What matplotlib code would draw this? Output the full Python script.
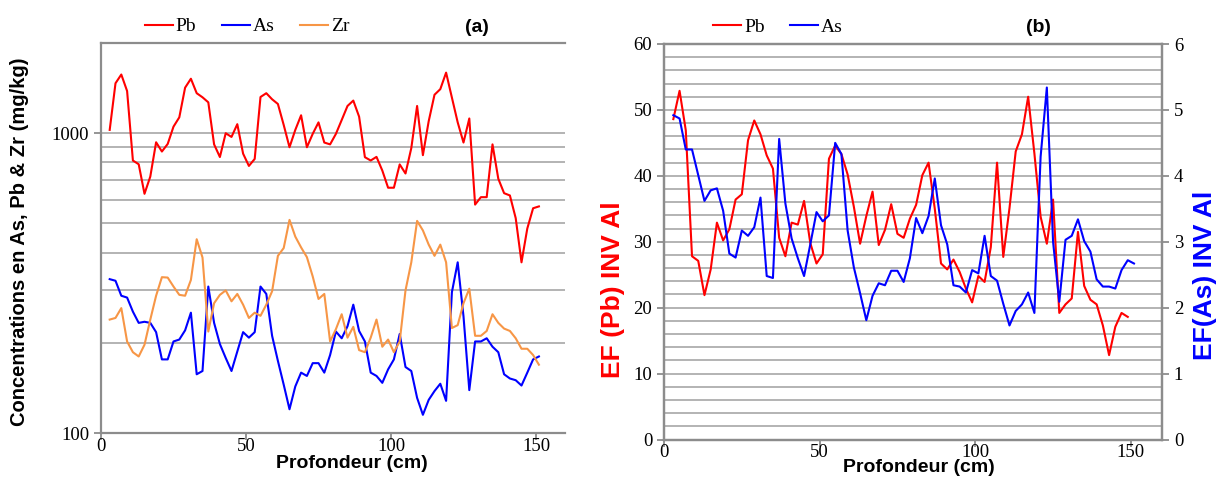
import matplotlib
matplotlib.use("Agg")
import matplotlib.pyplot as plt
from matplotlib.ticker import FixedLocator, NullFormatter
from matplotlib.lines import Line2D

# Depth of each sample (cm)
depth = list(range(3, 152, 2))

# Concentrations (mg/kg)
pb = [1026, 1468, 1570, 1383, 811, 788, 628, 717, 933, 869,
      921, 1052, 1130, 1419, 1520, 1360, 1318, 1268, 918, 833,
      1000, 972, 1072, 855, 778, 821, 1321, 1360, 1298, 1252,
      1066, 898, 1026, 1148, 898, 995, 1087, 931, 918, 995,
      1107, 1233, 1285, 1136, 832, 811, 834, 751, 658, 658,
      787, 734, 892, 1233, 845, 1097, 1344, 1403, 1593, 1315,
      1087, 931, 1120, 578, 612, 612, 918, 705, 631, 620,
      521, 371, 481, 562, 570]
as_ = [326, 322, 287, 283, 254, 233, 235, 233, 217, 176,
       176, 202, 205, 220, 252, 157, 161, 308, 233, 198,
       178, 161, 187, 217, 208, 217, 308, 291, 211, 174,
       145, 120, 143, 159, 155, 171, 171, 159, 182, 218,
       207, 227, 268, 219, 202, 159, 155, 147, 163, 176,
       214, 166, 161, 131, 115, 129, 138, 146, 128, 295,
       371, 245, 139, 202, 202, 207, 194, 186, 157, 152,
       150, 144, 159, 176, 180]
zr = [239, 242, 261, 202, 186, 180, 197, 239, 287, 331,
      330, 308, 289, 287, 324, 443, 385, 218, 271, 289,
      299, 275, 291, 268, 242, 252, 246, 268, 297, 390,
      414, 514, 452, 416, 386, 333, 280, 291, 202, 222,
      249, 208, 226, 189, 186, 208, 239, 194, 205, 186,
      202, 299, 371, 510, 474, 425, 390, 425, 371, 224,
      229, 271, 303, 211, 211, 219, 249, 233, 223, 219,
      207, 191, 191, 182, 169]

# Enrichment factors (normalised to Al)
ef_depth_pb = depth[:-1]
ef_pb = [48.6, 52.9, 46.9, 27.8, 27.1, 21.9, 25.8, 32.9, 30.2, 31.9,
         36.4, 37.2, 45.4, 48.4, 46.3, 43.1, 41.1, 30.6, 27.8, 32.9,
         32.6, 36.2, 29.8, 26.7, 28.1, 42.6, 44.6, 43.3, 40.2, 35.3,
         29.7, 33.9, 37.6, 29.5, 31.8, 35.7, 31.2, 30.6, 33.5, 35.6,
         40.1, 42.0, 35.0, 26.7, 25.8, 27.3, 25.4, 22.9, 20.8, 24.8,
         23.9, 29.2, 42.0, 27.7, 35.1, 43.7, 46.3, 52.0, 43.4, 33.8,
         29.7, 36.4, 19.2, 20.5, 21.4, 31.5, 23.3, 21.2, 20.5, 17.3,
         12.8, 17.1, 19.2, 18.6]
ef_as = [4.92, 4.87, 4.40, 4.40, 4.01, 3.62, 3.78, 3.81, 3.47, 2.82,
         2.76, 3.17, 3.09, 3.22, 3.67, 2.48, 2.45, 4.56, 3.58, 3.05,
         2.75, 2.48, 2.96, 3.45, 3.31, 3.40, 4.50, 4.33, 3.17, 2.61,
         2.22, 1.81, 2.18, 2.37, 2.34, 2.56, 2.56, 2.39, 2.75, 3.36,
         3.13, 3.39, 3.96, 3.25, 2.96, 2.34, 2.32, 2.23, 2.57, 2.52,
         3.09, 2.48, 2.41, 2.06, 1.73, 1.95, 2.05, 2.23, 1.92, 4.29,
         5.34, 3.00, 2.09, 3.03, 3.09, 3.34, 3.01, 2.85, 2.43, 2.32,
         2.32, 2.29, 2.57, 2.72, 2.67]

RED = "#ff0000"
BLUE = "#0000ff"
ORANGE = "#f79646"
GRID = "#b3b3b3"
SPINE = "#8c8c8c"
SERIF = "Liberation Serif"
SANS = "Liberation Sans"
TICK_FS = 13.5
LW = 1.5

fig = plt.figure(figsize=(12.28, 5.0), dpi=100)


def style_ticks(a):
    a.tick_params(axis="both", which="major", length=5, width=1.3,
                  color=SPINE, labelsize=TICK_FS, direction="out")
    a.tick_params(axis="x", which="major", pad=-1.5)


# ---------------- (a) concentrations, log scale ----------------
ax = fig.add_axes([101 / 1228, 67 / 500, 464 / 1228, 390 / 500])
ax.plot(depth, pb, color=RED, lw=LW)
ax.plot(depth, as_, color=BLUE, lw=LW)
ax.plot(depth, zr, color=ORANGE, lw=LW)
ax.set_yscale("log")
ax.set_ylim(100, 2000)
ax.set_xlim(0, 160)
ax.yaxis.set_major_locator(FixedLocator([100, 1000]))
ax.set_yticklabels(["100", "1000"])
ax.yaxis.set_minor_locator(FixedLocator([200, 300, 400, 500, 600, 700, 800, 900]))
ax.yaxis.set_minor_formatter(NullFormatter())
ax.set_xticks([0, 50, 100, 150])
ax.grid(True, which="both", axis="y", color=GRID, lw=1.4)
ax.set_axisbelow(True)
ax.tick_params(axis="y", which="minor", length=0)
style_ticks(ax)
for lab in ax.get_xticklabels() + ax.get_yticklabels():
    lab.set_fontfamily(SERIF)
for side in ("left", "bottom", "top"):
    ax.spines[side].set_color(SPINE)
    ax.spines[side].set_linewidth(1.6)
ax.spines["right"].set_visible(False)
ax.set_xlabel("Profondeur (cm)", fontsize=14, fontweight="bold", family=SANS,
              va="center")
ax.xaxis.set_label_coords(0.541, -0.079)
ax.set_ylabel("Concentrations en As, Pb & Zr (mg/kg)", fontsize=14.5,
              fontweight="bold", family=SANS, va="center")
ax.yaxis.set_label_coords(-0.175, 0.49)
handles_a = [Line2D([], [], color=c, lw=LW) for c in (RED, BLUE, ORANGE)]
ax.legend(handles_a, ["Pb", "As", "Zr"], loc="center", ncol=3,
          bbox_to_anchor=(0.315, 1.042), frameon=False,
          prop={"family": SERIF, "size": 14}, handlelength=1.45,
          handletextpad=0.15, columnspacing=1.3, borderaxespad=0)
ax.text(477 / 1228, 1 - 27 / 500, "(a)", transform=fig.transFigure,
        ha="center", va="center", fontsize=14, fontweight="bold", family=SANS)

# ---------------- (b) enrichment factors ----------------
bx = fig.add_axes([664 / 1228, 60.5 / 500, 498 / 1228, 395.5 / 500])
bx2 = bx.twinx()
bx.plot(ef_depth_pb, ef_pb, color=RED, lw=LW)
bx2.plot(depth, ef_as, color=BLUE, lw=LW)
bx.set_xlim(0, 160)
bx.set_ylim(0, 60)
bx2.set_ylim(0, 6)
bx.set_xticks([0, 50, 100, 150])
bx.set_yticks(range(0, 61, 10))
bx.set_yticks(range(0, 61, 2), minor=True)
bx2.set_yticks(range(0, 7))
bx.grid(True, which="both", axis="y", color=GRID, lw=1.4)
bx.set_axisbelow(True)
bx.tick_params(axis="y", which="minor", length=0)
style_ticks(bx)
bx2.tick_params(axis="y", which="major", length=5, width=1.3, color=SPINE,
                labelsize=TICK_FS, direction="out")
for lab in bx.get_xticklabels() + bx.get_yticklabels() + bx2.get_yticklabels():
    lab.set_fontfamily(SERIF)
for a in (bx, bx2):
    for side in ("left", "bottom", "top", "right"):
        a.spines[side].set_color(SPINE)
        a.spines[side].set_linewidth(1.6)
bx.set_xlabel("Profondeur (cm)", fontsize=14, fontweight="bold", family=SANS,
              va="center")
bx.xaxis.set_label_coords(0.512, -0.072)
bx.set_ylabel("EF (Pb) INV Al", fontsize=19, fontweight="bold", family=SANS,
              color=RED, va="center")
bx.yaxis.set_label_coords(-0.103, 0.378)
bx2.set_ylabel("EF(As) INV Al", fontsize=19, fontweight="bold", family=SANS,
               color=BLUE, rotation=90, va="center")
bx2.yaxis.set_label_coords(1.086, 0.416)
handles_b = [Line2D([], [], color=c, lw=LW) for c in (RED, BLUE)]
bx2.legend(handles_b, ["Pb", "As"], loc="center", ncol=2,
           bbox_to_anchor=(0.229, 1.043), frameon=False,
           prop={"family": SERIF, "size": 14}, handlelength=1.45,
           handletextpad=0.15, columnspacing=1.3, borderaxespad=0)
bx.text(1038 / 1228, 1 - 27 / 500, "(b)", transform=fig.transFigure,
        ha="center", va="center", fontsize=14, fontweight="bold", family=SANS)

fig.savefig("out.png", dpi=100)
